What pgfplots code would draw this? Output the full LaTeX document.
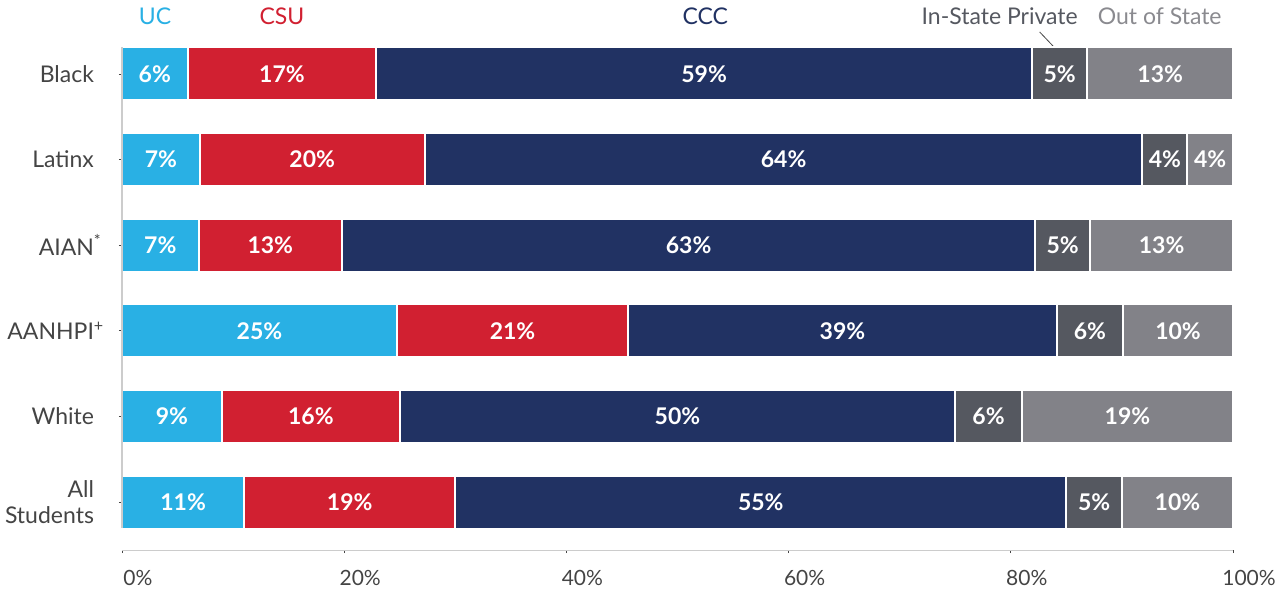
\documentclass[border=0pt]{standalone}
\usepackage{fontspec}
\setmainfont{Lato}
\usepackage{pgfplots}
\pgfplotsset{compat=1.18}

\definecolor{ucblue}{HTML}{29B0E4}
\definecolor{csured}{HTML}{D12031}
\definecolor{cccnavy}{HTML}{213263}
\definecolor{ispgray}{HTML}{555860}
\definecolor{oosgray}{HTML}{828288}
\definecolor{labgray}{HTML}{444444}
\definecolor{linegray}{HTML}{CCCCCC}
\definecolor{oostext}{HTML}{8A8A8F}

\tikzset{hdr/.style={anchor=base, yshift=1pt, font=\fontsize{11.5}{13}\selectfont}}

\begin{document}
\begin{tikzpicture}
\useasboundingbox (-61pt,-21.5pt) rectangle (578.5pt,275pt);
\begin{axis}[
  at={(0,0)}, anchor=south west,
  scale only axis, width=555.5pt, height=262pt,
  xbar stacked, bar width=26.5pt,
  xmin=0, xmax=100, ymin=-0.56, ymax=5.56, y dir=reverse,
  axis x line*=bottom, axis y line*=left,
  x axis line style={draw=linegray},
  y axis line style={draw=none},
  ytick={0,...,5},
  yticklabels={Black, Latinx, AIAN\rlap{\textsuperscript{*}}, AANHPI\rlap{\textsuperscript{+}}, White, {All\\Students}},
  yticklabel style={align=right, font=\fontsize{11.5}{13}\selectfont, text=labgray, xshift=-9pt},
  xtick={0,20,...,100},
  xticklabel={\pgfmathprintnumber{\tick}\%},
  xticklabel style={font=\fontsize{10.5}{12}\selectfont, text=labgray, xshift=8pt, yshift=-5pt},
  tick style={draw=labgray, line width=0.4pt},
  major tick length=1.5pt,
  tick align=outside,
  /pgf/number format/assume math mode=true,
  point meta=explicit,
  nodes near coords={\pgfmathprintnumber{\pgfplotspointmeta}\%},
  every node near coord/.append style={text=white, font=\bfseries\fontsize{11.5}{13}\selectfont},
  clip=false,
]
\addplot[fill=ucblue, draw=white, line width=1pt] coordinates {
  (5.9,0) [6] (7.0,1) [7] (6.9,2) [7] (24.75,3) [25] (9.0,4) [9] (11.0,5) [11]};
\addplot[fill=csured, draw=white, line width=1pt] coordinates {
  (17.0,0) [17] (20.25,1) [20] (12.9,2) [13] (20.8,3) [21] (16.0,4) [16] (19.0,5) [19]};
\addplot[fill=cccnavy, draw=white, line width=1pt] coordinates {
  (59.0,0) [59] (64.6,1) [64] (62.4,2) [63] (38.6,3) [39] (50.0,4) [50] (55.0,5) [55]};
\addplot[fill=ispgray, draw=white, line width=1pt] coordinates {
  (5.0,0) [5] (4.05,1) [4] (4.95,2) [5] (5.95,3) [6] (6.0,4) [6] (5.0,5) [5]};
\addplot[fill=oosgray, draw=white, line width=1pt] coordinates {
  (13.1,0) [13] (4.1,1) [4] (12.85,2) [13] (9.9,3) [10] (19.0,4) [19] (10.0,5) [10]};

\draw[labgray, line width=0.4pt] (axis cs:82.6,-0.49) -- (axis cs:83.8,-0.326);
\node[hdr, text=ucblue] at (axis cs:2.97,-0.56) {UC};
\node[hdr, text=csured] at (axis cs:14.4,-0.56) {CSU};
\node[hdr, text=cccnavy] at (axis cs:52.5,-0.56) {CCC};
\node[hdr, text=ispgray] at (axis cs:79.0,-0.56) {In-State Private};
\node[hdr, text=oostext] at (axis cs:93.4,-0.56) {Out of State};
\end{axis}
% left rule, drawn over the bars' white edges
\draw[linegray, line width=0.6pt] (0,11pt) -- (0,251.5pt);
\end{tikzpicture}
\end{document}
